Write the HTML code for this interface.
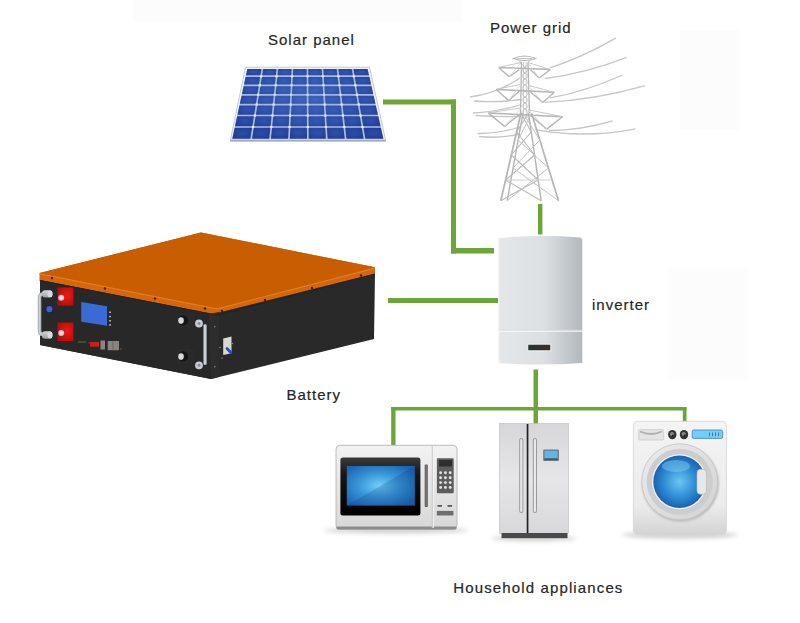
<!DOCTYPE html>
<html><head><meta charset="utf-8"><style>
html,body{margin:0;padding:0;background:#fff;width:800px;height:623px;overflow:hidden}
svg{display:block}
</style></head><body>
<svg width="800" height="623" viewBox="0 0 800 623">

<rect x="0" y="0" width="800" height="623" fill="#ffffff"/>
<rect x="133" y="0" width="329" height="22" fill="#fcfcfc"/>
<rect x="680" y="30" width="60" height="100" fill="#fcfcfc"/>
<rect x="668" y="268" width="80" height="112" fill="#fcfcfc"/>

<rect x="383" y="99.5" width="73" height="5" fill="#6ca636"/>
<rect x="451" y="99.5" width="5" height="154" fill="#6ca636"/>
<rect x="451" y="248" width="43" height="5.5" fill="#6ca636"/>
<rect x="538" y="204" width="4.4" height="30.5" fill="#6ca636"/>
<rect x="388" y="298" width="110" height="5" fill="#6ca636"/>
<rect x="533.5" y="369.5" width="4.5" height="54.5" fill="#6ca636"/>
<rect x="391" y="407" width="295.5" height="3.5" fill="#6ca636"/>
<rect x="391.2" y="407" width="4.3" height="38" fill="#6ca636"/>
<rect x="682.8" y="407" width="3.7" height="15" fill="#6ca636"/>
<defs><radialGradient id="cellg" cx="0.5" cy="0.5" r="0.7"><stop offset="0" stop-color="#2b4dac"/><stop offset="1" stop-color="#22398f"/></radialGradient><linearGradient id="invg" x1="0" y1="0" x2="1" y2="0"><stop offset="0" stop-color="#e4e7e9"/><stop offset="0.55" stop-color="#dde0e3"/><stop offset="1" stop-color="#b2b8bd"/></linearGradient><radialGradient id="mwglass" cx="0.48" cy="0.5" r="0.62"><stop offset="0" stop-color="#70d0f6"/><stop offset="0.5" stop-color="#3a96d8"/><stop offset="1" stop-color="#1c64b4"/></radialGradient><linearGradient id="mwframe" x1="0" y1="0" x2="0" y2="1"><stop offset="0" stop-color="#3a3a3a"/><stop offset="0.3" stop-color="#161616"/><stop offset="1" stop-color="#000"/></linearGradient><radialGradient id="wglass" cx="0.5" cy="0.5" r="0.55"><stop offset="0" stop-color="#6cc6f2"/><stop offset="0.6" stop-color="#2a86d0"/><stop offset="1" stop-color="#1658a8"/></radialGradient><linearGradient id="fridgeg" x1="0" y1="0" x2="0" y2="1"><stop offset="0" stop-color="#d6d6d8"/><stop offset="0.5" stop-color="#e6e6e8"/><stop offset="1" stop-color="#d8d8da"/></linearGradient><linearGradient id="mwbody" x1="0" y1="0" x2="0" y2="1"><stop offset="0" stop-color="#f2f2f2"/><stop offset="1" stop-color="#d8d8d8"/></linearGradient><linearGradient id="wbody" x1="0" y1="0" x2="0" y2="1"><stop offset="0" stop-color="#f4f4f4"/><stop offset="0.75" stop-color="#ebebeb"/><stop offset="1" stop-color="#d4d4d4"/></linearGradient><linearGradient id="wring" x1="0" y1="0" x2="1" y2="1"><stop offset="0" stop-color="#ececec"/><stop offset="1" stop-color="#d2d2d2"/></linearGradient><linearGradient id="slotg" x1="0" y1="0" x2="1" y2="0"><stop offset="0" stop-color="#263634"/><stop offset="1" stop-color="#3a2e2e"/></linearGradient><linearGradient id="knobg" x1="0" y1="0" x2="0" y2="1"><stop offset="0" stop-color="#d4d8dc"/><stop offset="1" stop-color="#9aa0a4"/></linearGradient><radialGradient id="redg" cx="0.6" cy="0.45" r="0.6"><stop offset="0" stop-color="#f01818"/><stop offset="1" stop-color="#b80c0c"/></radialGradient><filter id="blur1" x="-50%" y="-50%" width="200%" height="200%"><feGaussianBlur stdDeviation="1.2"/></filter><filter id="blur2" x="-50%" y="-200%" width="200%" height="500%"><feGaussianBlur stdDeviation="2"/></filter></defs>
<polygon points="245.5,67.2 369.5,67.2 385.8,141 230.2,141" fill="#f0f2f6" stroke="#c0c4c8" stroke-width="0.9"/>
<polygon points="230.5,139.6 385.5,139.6 385.8,141.4 230.2,141.4" fill="#a9adb2"/>
<polygon points="247.3,68.9 367.6,68.9 383.4,138.7 232.3,138.7" fill="#a9c0e6"/>
<polygon points="247.3,68.9 261.49,68.9 260.46,75.35 245.91,75.35" fill="url(#cellg)"/>
<polygon points="263.19,68.9 276.52,68.9 275.85,75.35 262.16,75.35" fill="url(#cellg)"/>
<polygon points="278.23,68.9 291.56,68.9 291.24,75.35 277.55,75.35" fill="url(#cellg)"/>
<polygon points="293.26,68.9 306.6,68.9 306.64,75.35 292.94,75.35" fill="url(#cellg)"/>
<polygon points="308.3,68.9 321.64,68.9 322.03,75.35 308.34,75.35" fill="url(#cellg)"/>
<polygon points="323.34,68.9 336.68,68.9 337.42,75.35 323.73,75.35" fill="url(#cellg)"/>
<polygon points="338.38,68.9 351.71,68.9 352.82,75.35 339.12,75.35" fill="url(#cellg)"/>
<polygon points="353.41,68.9 367.6,68.9 369.06,75.35 354.52,75.35" fill="url(#cellg)"/>
<polygon points="245.55,77.05 260.19,77.05 259,84.45 243.96,84.45" fill="url(#cellg)"/>
<polygon points="261.89,77.05 275.67,77.05 274.9,84.45 260.7,84.45" fill="url(#cellg)"/>
<polygon points="277.37,77.05 291.16,77.05 290.79,84.45 276.6,84.45" fill="url(#cellg)"/>
<polygon points="292.86,77.05 306.65,77.05 306.69,84.45 292.49,84.45" fill="url(#cellg)"/>
<polygon points="308.35,77.05 322.13,77.05 322.58,84.45 308.39,84.45" fill="url(#cellg)"/>
<polygon points="323.83,77.05 337.62,77.05 338.48,84.45 324.28,84.45" fill="url(#cellg)"/>
<polygon points="339.32,77.05 353.11,77.05 354.37,84.45 340.18,84.45" fill="url(#cellg)"/>
<polygon points="354.81,77.05 369.44,77.05 371.12,84.45 356.07,84.45" fill="url(#cellg)"/>
<polygon points="243.59,86.15 258.73,86.15 257.49,93.95 241.92,93.95" fill="url(#cellg)"/>
<polygon points="260.43,86.15 274.72,86.15 273.91,93.95 259.19,93.95" fill="url(#cellg)"/>
<polygon points="276.42,86.15 290.71,86.15 290.32,93.95 275.61,93.95" fill="url(#cellg)"/>
<polygon points="292.41,86.15 306.7,86.15 306.74,93.95 292.02,93.95" fill="url(#cellg)"/>
<polygon points="308.4,86.15 322.69,86.15 323.16,93.95 308.44,93.95" fill="url(#cellg)"/>
<polygon points="324.39,86.15 338.68,86.15 339.58,93.95 324.86,93.95" fill="url(#cellg)"/>
<polygon points="340.38,86.15 354.67,86.15 356,93.95 341.28,93.95" fill="url(#cellg)"/>
<polygon points="356.37,86.15 371.5,86.15 373.27,93.95 357.7,93.95" fill="url(#cellg)"/>
<polygon points="241.55,95.65 257.21,95.65 255.92,103.75 239.81,103.75" fill="url(#cellg)"/>
<polygon points="258.91,95.65 273.73,95.65 272.88,103.75 257.62,103.75" fill="url(#cellg)"/>
<polygon points="275.43,95.65 290.24,95.65 289.84,103.75 274.58,103.75" fill="url(#cellg)"/>
<polygon points="291.94,95.65 306.75,95.65 306.8,103.75 291.54,103.75" fill="url(#cellg)"/>
<polygon points="308.45,95.65 323.27,95.65 323.76,103.75 308.5,103.75" fill="url(#cellg)"/>
<polygon points="324.97,95.65 339.78,95.65 340.72,103.75 325.46,103.75" fill="url(#cellg)"/>
<polygon points="341.48,95.65 356.29,95.65 357.68,103.75 342.42,103.75" fill="url(#cellg)"/>
<polygon points="357.99,95.65 373.66,95.65 375.49,103.75 359.38,103.75" fill="url(#cellg)"/>
<polygon points="239.45,105.45 255.65,105.45 254.18,114.65 237.47,114.65" fill="url(#cellg)"/>
<polygon points="257.35,105.45 272.7,105.45 271.74,114.65 255.88,114.65" fill="url(#cellg)"/>
<polygon points="274.4,105.45 289.76,105.45 289.3,114.65 273.44,114.65" fill="url(#cellg)"/>
<polygon points="291.46,105.45 306.81,105.45 306.86,114.65 291,114.65" fill="url(#cellg)"/>
<polygon points="308.51,105.45 323.86,105.45 324.42,114.65 308.56,114.65" fill="url(#cellg)"/>
<polygon points="325.56,105.45 340.92,105.45 341.98,114.65 326.12,114.65" fill="url(#cellg)"/>
<polygon points="342.62,105.45 357.97,105.45 359.55,114.65 343.68,114.65" fill="url(#cellg)"/>
<polygon points="359.67,105.45 375.87,105.45 377.96,114.65 361.25,114.65" fill="url(#cellg)"/>
<polygon points="237.1,116.35 253.91,116.35 252.34,126.15 235,126.15" fill="url(#cellg)"/>
<polygon points="255.61,116.35 271.56,116.35 270.54,126.15 254.04,126.15" fill="url(#cellg)"/>
<polygon points="273.26,116.35 289.22,116.35 288.73,126.15 272.24,126.15" fill="url(#cellg)"/>
<polygon points="290.92,116.35 306.87,116.35 306.93,126.15 290.43,126.15" fill="url(#cellg)"/>
<polygon points="308.57,116.35 324.53,116.35 325.12,126.15 308.63,126.15" fill="url(#cellg)"/>
<polygon points="326.23,116.35 342.18,116.35 343.32,126.15 326.82,126.15" fill="url(#cellg)"/>
<polygon points="343.88,116.35 359.84,116.35 361.51,126.15 345.02,126.15" fill="url(#cellg)"/>
<polygon points="361.54,116.35 378.34,116.35 380.56,126.15 363.21,126.15" fill="url(#cellg)"/>
<polygon points="234.63,127.85 252.07,127.85 250.34,138.7 232.3,138.7" fill="url(#cellg)"/>
<polygon points="253.77,127.85 270.36,127.85 269.22,138.7 252.04,138.7" fill="url(#cellg)"/>
<polygon points="272.06,127.85 288.65,127.85 288.11,138.7 270.93,138.7" fill="url(#cellg)"/>
<polygon points="290.35,127.85 306.94,127.85 307,138.7 289.81,138.7" fill="url(#cellg)"/>
<polygon points="308.64,127.85 325.23,127.85 325.89,138.7 308.7,138.7" fill="url(#cellg)"/>
<polygon points="326.93,127.85 343.52,127.85 344.77,138.7 327.59,138.7" fill="url(#cellg)"/>
<polygon points="345.22,127.85 361.8,127.85 363.66,138.7 346.48,138.7" fill="url(#cellg)"/>
<polygon points="363.5,127.85 380.94,127.85 383.4,138.7 365.36,138.7" fill="url(#cellg)"/>
<circle cx="261.17" cy="76.2" r="1.3" fill="#f4f8ff"/>
<circle cx="276.61" cy="76.2" r="1.3" fill="#f4f8ff"/>
<circle cx="292.05" cy="76.2" r="1.3" fill="#f4f8ff"/>
<circle cx="307.49" cy="76.2" r="1.3" fill="#f4f8ff"/>
<circle cx="322.93" cy="76.2" r="1.3" fill="#f4f8ff"/>
<circle cx="338.37" cy="76.2" r="1.3" fill="#f4f8ff"/>
<circle cx="353.81" cy="76.2" r="1.3" fill="#f4f8ff"/>
<circle cx="259.72" cy="85.3" r="1.3" fill="#f4f8ff"/>
<circle cx="275.66" cy="85.3" r="1.3" fill="#f4f8ff"/>
<circle cx="291.6" cy="85.3" r="1.3" fill="#f4f8ff"/>
<circle cx="307.54" cy="85.3" r="1.3" fill="#f4f8ff"/>
<circle cx="323.49" cy="85.3" r="1.3" fill="#f4f8ff"/>
<circle cx="339.43" cy="85.3" r="1.3" fill="#f4f8ff"/>
<circle cx="355.37" cy="85.3" r="1.3" fill="#f4f8ff"/>
<circle cx="258.2" cy="94.8" r="1.3" fill="#f4f8ff"/>
<circle cx="274.67" cy="94.8" r="1.3" fill="#f4f8ff"/>
<circle cx="291.13" cy="94.8" r="1.3" fill="#f4f8ff"/>
<circle cx="307.6" cy="94.8" r="1.3" fill="#f4f8ff"/>
<circle cx="324.06" cy="94.8" r="1.3" fill="#f4f8ff"/>
<circle cx="340.53" cy="94.8" r="1.3" fill="#f4f8ff"/>
<circle cx="357" cy="94.8" r="1.3" fill="#f4f8ff"/>
<circle cx="256.63" cy="104.6" r="1.3" fill="#f4f8ff"/>
<circle cx="273.64" cy="104.6" r="1.3" fill="#f4f8ff"/>
<circle cx="290.65" cy="104.6" r="1.3" fill="#f4f8ff"/>
<circle cx="307.65" cy="104.6" r="1.3" fill="#f4f8ff"/>
<circle cx="324.66" cy="104.6" r="1.3" fill="#f4f8ff"/>
<circle cx="341.67" cy="104.6" r="1.3" fill="#f4f8ff"/>
<circle cx="358.67" cy="104.6" r="1.3" fill="#f4f8ff"/>
<circle cx="254.89" cy="115.5" r="1.3" fill="#f4f8ff"/>
<circle cx="272.5" cy="115.5" r="1.3" fill="#f4f8ff"/>
<circle cx="290.11" cy="115.5" r="1.3" fill="#f4f8ff"/>
<circle cx="307.72" cy="115.5" r="1.3" fill="#f4f8ff"/>
<circle cx="325.32" cy="115.5" r="1.3" fill="#f4f8ff"/>
<circle cx="342.93" cy="115.5" r="1.3" fill="#f4f8ff"/>
<circle cx="360.54" cy="115.5" r="1.3" fill="#f4f8ff"/>
<circle cx="253.06" cy="127" r="1.3" fill="#f4f8ff"/>
<circle cx="271.3" cy="127" r="1.3" fill="#f4f8ff"/>
<circle cx="289.54" cy="127" r="1.3" fill="#f4f8ff"/>
<circle cx="307.78" cy="127" r="1.3" fill="#f4f8ff"/>
<circle cx="326.03" cy="127" r="1.3" fill="#f4f8ff"/>
<circle cx="344.27" cy="127" r="1.3" fill="#f4f8ff"/>
<circle cx="362.51" cy="127" r="1.3" fill="#f4f8ff"/>
<radialGradient id="panelov" cx="0.5" cy="0.4" r="0.6"><stop offset="0" stop-color="#6a9ae0" stop-opacity="0.35"/><stop offset="1" stop-color="#6a9ae0" stop-opacity="0"/></radialGradient>
<polygon points="247.3,68.9 367.6,68.9 383.4,138.7 232.3,138.7" fill="url(#panelov)"/>
<path d="M550,67.9 Q583,57.1 616.1,37.9" fill="none" stroke="#c6c6c6" stroke-width="1.3"/><path d="M544.7,78.5 Q585.7,73.3 626.7,57.3" fill="none" stroke="#c6c6c6" stroke-width="1.3"/><path d="M550,97.9 Q585.9,91.6 622.3,75" fill="none" stroke="#c6c6c6" stroke-width="1.3"/><path d="M544.7,102.3 Q595,100 645.2,85.6" fill="none" stroke="#c6c6c6" stroke-width="1.3"/><path d="M549,130.5 Q581.2,130.2 612.6,120.8" fill="none" stroke="#c6c6c6" stroke-width="1.3"/><path d="M535,129.6 Q584.8,138.8 635.5,128.8" fill="none" stroke="#c6c6c6" stroke-width="1.3"/><path d="M470,97 Q497,93.5 520,78" fill="none" stroke="#c6c6c6" stroke-width="1.3"/><path d="M474,101 Q496.5,102.8 521,99.5" fill="none" stroke="#c6c6c6" stroke-width="1.3"/><path d="M473,113 Q495.5,112 520,105" fill="none" stroke="#c6c6c6" stroke-width="1.3"/><path d="M475.5,115.5 Q496.3,117 520,116.5" fill="none" stroke="#c6c6c6" stroke-width="1.3"/><path d="M477.5,133.5 Q497.3,133.8 520,127" fill="none" stroke="#c6c6c6" stroke-width="1.3"/><path d="M479,136.5 Q498.5,138.8 520,134" fill="none" stroke="#c6c6c6" stroke-width="1.3"/><path d="M513.3,58.5 Q524.5,53.5 535.7,58.5 Q524.5,62.5 513.3,58.5 Z" fill="none" stroke="#b4b4b4" stroke-width="1.1"/><line x1="517" y1="58.5" x2="532" y2="58.5" stroke="#c0c0c0" stroke-width="0.9"/><line x1="520" y1="61" x2="520.5" y2="64" stroke="#b4b4b4" stroke-width="1.0"/><line x1="529" y1="61" x2="528.5" y2="64" stroke="#b4b4b4" stroke-width="1.0"/><line x1="521.5" y1="62" x2="520.5" y2="113" stroke="#b4b4b4" stroke-width="1.3"/><line x1="528" y1="62" x2="529.5" y2="113" stroke="#b4b4b4" stroke-width="1.3"/><line x1="523.5" y1="62" x2="523.5" y2="113" stroke="#c4c4c4" stroke-width="0.8"/><line x1="526" y1="62" x2="526.5" y2="113" stroke="#c4c4c4" stroke-width="0.8"/><line x1="521.5" y1="64" x2="528.5" y2="70" stroke="#bcbcbc" stroke-width="0.8"/><line x1="528.5" y1="64" x2="521.5" y2="70" stroke="#bcbcbc" stroke-width="0.8"/><line x1="521.5" y1="70" x2="528.5" y2="76" stroke="#bcbcbc" stroke-width="0.8"/><line x1="528.5" y1="70" x2="521.5" y2="76" stroke="#bcbcbc" stroke-width="0.8"/><line x1="521.5" y1="76" x2="528.5" y2="82" stroke="#bcbcbc" stroke-width="0.8"/><line x1="528.5" y1="76" x2="521.5" y2="82" stroke="#bcbcbc" stroke-width="0.8"/><line x1="521.5" y1="82" x2="528.5" y2="88" stroke="#bcbcbc" stroke-width="0.8"/><line x1="528.5" y1="82" x2="521.5" y2="88" stroke="#bcbcbc" stroke-width="0.8"/><line x1="521.5" y1="88" x2="528.5" y2="94" stroke="#bcbcbc" stroke-width="0.8"/><line x1="528.5" y1="88" x2="521.5" y2="94" stroke="#bcbcbc" stroke-width="0.8"/><line x1="521.5" y1="94" x2="528.5" y2="100" stroke="#bcbcbc" stroke-width="0.8"/><line x1="528.5" y1="94" x2="521.5" y2="100" stroke="#bcbcbc" stroke-width="0.8"/><line x1="521.5" y1="100" x2="528.5" y2="106" stroke="#bcbcbc" stroke-width="0.8"/><line x1="528.5" y1="100" x2="521.5" y2="106" stroke="#bcbcbc" stroke-width="0.8"/><line x1="521.5" y1="106" x2="528.5" y2="112" stroke="#bcbcbc" stroke-width="0.8"/><line x1="528.5" y1="106" x2="521.5" y2="112" stroke="#bcbcbc" stroke-width="0.8"/><line x1="521.5" y1="112" x2="528.5" y2="118" stroke="#bcbcbc" stroke-width="0.8"/><line x1="528.5" y1="112" x2="521.5" y2="118" stroke="#bcbcbc" stroke-width="0.8"/><line x1="498.7" y1="67.5" x2="550.3" y2="69.5" stroke="#b4b4b4" stroke-width="1.5"/><line x1="498.7" y1="67.5" x2="509.2" y2="76.8" stroke="#b4b4b4" stroke-width="1.4"/><line x1="509.2" y1="76.8" x2="519.4" y2="69.5" stroke="#b4b4b4" stroke-width="1.4"/><line x1="550.3" y1="69.5" x2="539.3" y2="78" stroke="#b4b4b4" stroke-width="1.4"/><line x1="539.3" y1="78" x2="530.8" y2="70" stroke="#b4b4b4" stroke-width="1.4"/><line x1="499.7" y1="67.2" x2="521" y2="62.5" stroke="#c8c8c8" stroke-width="1.0"/><line x1="549.3" y1="69.2" x2="528" y2="62.5" stroke="#c8c8c8" stroke-width="1.0"/><line x1="509.2" y1="76.8" x2="521" y2="62.5" stroke="#d6d6d6" stroke-width="0.8"/><line x1="539.3" y1="78" x2="528" y2="62.5" stroke="#d6d6d6" stroke-width="0.8"/><line x1="496.2" y1="89.4" x2="554.3" y2="92.3" stroke="#b4b4b4" stroke-width="1.5"/><line x1="496.2" y1="89.4" x2="508.6" y2="100.5" stroke="#b4b4b4" stroke-width="1.4"/><line x1="508.6" y1="100.5" x2="520" y2="90.5" stroke="#b4b4b4" stroke-width="1.4"/><line x1="554.3" y1="92.3" x2="542.8" y2="102.5" stroke="#b4b4b4" stroke-width="1.4"/><line x1="542.8" y1="102.5" x2="530" y2="91.5" stroke="#b4b4b4" stroke-width="1.4"/><line x1="497.2" y1="89.1" x2="521" y2="84.4" stroke="#c8c8c8" stroke-width="1.0"/><line x1="553.3" y1="92" x2="528" y2="85.3" stroke="#c8c8c8" stroke-width="1.0"/><line x1="508.6" y1="100.5" x2="521" y2="84.4" stroke="#d6d6d6" stroke-width="0.8"/><line x1="542.8" y1="102.5" x2="528" y2="85.3" stroke="#d6d6d6" stroke-width="0.8"/><line x1="488.2" y1="113" x2="562.5" y2="116.8" stroke="#b4b4b4" stroke-width="1.5"/><line x1="488.2" y1="113" x2="504.6" y2="126.4" stroke="#b4b4b4" stroke-width="1.4"/><line x1="504.6" y1="126.4" x2="520" y2="114" stroke="#b4b4b4" stroke-width="1.4"/><line x1="562.5" y1="116.8" x2="546.8" y2="129.1" stroke="#b4b4b4" stroke-width="1.4"/><line x1="546.8" y1="129.1" x2="530" y2="115" stroke="#b4b4b4" stroke-width="1.4"/><line x1="489.2" y1="112.7" x2="521" y2="108" stroke="#c8c8c8" stroke-width="1.0"/><line x1="561.5" y1="116.5" x2="528" y2="109.8" stroke="#c8c8c8" stroke-width="1.0"/><line x1="504.6" y1="126.4" x2="521" y2="108" stroke="#d6d6d6" stroke-width="0.8"/><line x1="546.8" y1="129.1" x2="528" y2="109.8" stroke="#d6d6d6" stroke-width="0.8"/><line x1="521" y1="113" x2="500.8" y2="200.7" stroke="#b4b4b4" stroke-width="1.7"/><line x1="523" y1="113" x2="507.2" y2="200.7" stroke="#b4b4b4" stroke-width="1.4"/><line x1="528.5" y1="113" x2="541.2" y2="200.7" stroke="#b4b4b4" stroke-width="1.4"/><line x1="531.5" y1="113" x2="558.5" y2="200.7" stroke="#b4b4b4" stroke-width="1.7"/><line x1="521" y1="113" x2="531.25" y2="132" stroke="#b8b8b8" stroke-width="1.1"/><line x1="528.5" y1="113" x2="516.62" y2="132" stroke="#b8b8b8" stroke-width="1.1"/><line x1="516.62" y1="132" x2="534.58" y2="155" stroke="#b8b8b8" stroke-width="1.1"/><line x1="531.25" y1="132" x2="511.33" y2="155" stroke="#b8b8b8" stroke-width="1.1"/><line x1="511.33" y1="155" x2="538.2" y2="180" stroke="#b8b8b8" stroke-width="1.1"/><line x1="534.58" y1="155" x2="505.57" y2="180" stroke="#b8b8b8" stroke-width="1.1"/><line x1="505.57" y1="180" x2="541.2" y2="200.7" stroke="#b8b8b8" stroke-width="1.1"/><line x1="538.2" y1="180" x2="500.8" y2="200.7" stroke="#b8b8b8" stroke-width="1.1"/><line x1="523" y1="113" x2="539.81" y2="140" stroke="#c2c2c2" stroke-width="1.0"/><line x1="531.5" y1="113" x2="518.14" y2="140" stroke="#c2c2c2" stroke-width="1.0"/><line x1="518.14" y1="140" x2="548.43" y2="168" stroke="#c2c2c2" stroke-width="1.0"/><line x1="539.81" y1="140" x2="513.09" y2="168" stroke="#c2c2c2" stroke-width="1.0"/><line x1="513.09" y1="168" x2="558.5" y2="200.7" stroke="#c2c2c2" stroke-width="1.0"/><line x1="548.43" y1="168" x2="507.2" y2="200.7" stroke="#c2c2c2" stroke-width="1.0"/><line x1="505.57" y1="180" x2="552.13" y2="180" stroke="#cfcfcf" stroke-width="1.0"/>
<path d="M498,238 Q540,234.5 580,237.5 Q582.3,238 582.3,240 L582.3,363 Q540,366 498,363 Z" fill="url(#invg)"/>
<line x1="498.8" y1="238" x2="498.8" y2="363" stroke="#f6f7f8" stroke-width="1.2"/>
<line x1="498" y1="331.2" x2="582.3" y2="331.2" stroke="#f8f8f8" stroke-width="1.3"/>
<line x1="498" y1="330" x2="582.3" y2="330" stroke="#d2d5d8" stroke-width="0.7"/>
<rect x="527.8" y="344.2" width="23" height="6.6" fill="url(#slotg)" stroke="#f6f6f6" stroke-width="0.9"/>

<polygon points="39.5,273 201,232.5 375,267.3 375,274 217,315 39.5,280.5" fill="#d4670c"/>
<polygon points="39.5,273 201,232.5 375,267.3 217,308.3" fill="#c95d01"/>
<polygon points="40,280 213,314 375,273.5 374,339 211,379 40,345" fill="#292929"/>
<polygon points="40,280 213,314 211,379 40,345" fill="#282828"/>
<polygon points="209,314 219,312 219,377 211,379" fill="#2d2d2d"/>
<polyline points="39.5,273.8 217,309 375,268.2" fill="none" stroke="#e8831e" stroke-width="0.9"/>
<polyline points="39.5,280.5 217,315 375,274" fill="none" stroke="#1a1a1a" stroke-width="0.8" opacity="0.6"/>

<circle cx="52" cy="278" r="1.2" fill="#4a1606"/>
<circle cx="105" cy="288.5" r="1.2" fill="#4a1606"/>
<circle cx="155" cy="298.5" r="1.2" fill="#4a1606"/>
<circle cx="205" cy="308.5" r="1.2" fill="#4a1606"/>
<circle cx="222" cy="311" r="1.2" fill="#4a1606"/>
<circle cx="265" cy="300" r="1.2" fill="#4a1606"/>
<circle cx="312" cy="288" r="1.2" fill="#4a1606"/>
<circle cx="361" cy="275.5" r="1.2" fill="#4a1606"/>
<path d="M43,294 Q39.5,294 39.5,298 L39.5,330 Q39.5,334.5 43,334.5" fill="none" stroke="#a9aeb2" stroke-width="3.6"/>
<path d="M43,294 Q39.5,294 39.5,298 L39.5,330 Q39.5,334.5 43,334.5" fill="none" stroke="#ccd0d4" stroke-width="1.6"/>
<rect x="42" y="290.3" width="10.3" height="7.2" rx="3.2" fill="url(#knobg)"/><ellipse cx="50" cy="293.9" rx="2.6" ry="3.4" fill="#d6dade"/>
<rect x="42" y="331.2" width="10.3" height="7.6" rx="3.2" fill="url(#knobg)"/><ellipse cx="50" cy="335" rx="2.6" ry="3.6" fill="#d6dade"/>
<rect x="57.6" y="287.4" width="15.8" height="18.2" fill="url(#redg)"/>
<circle cx="61.2" cy="297.79999999999995" r="3" fill="#b8c4c4"/><circle cx="61.2" cy="297.79999999999995" r="1.8" fill="#e4eeee"/>
<rect x="57.6" y="322.6" width="15.8" height="18.4" fill="url(#redg)"/>
<circle cx="61.2" cy="333.0" r="3" fill="#b8c4c4"/><circle cx="61.2" cy="333.0" r="1.8" fill="#e4eeee"/>
<circle cx="49.4" cy="309.2" r="3.8" fill="#1a1a2a"/><circle cx="49.4" cy="309.2" r="3.1" fill="#3c62cc"/>
<polygon points="81.2,302 107,306.2 107,325.8 81.2,321.8" fill="#3a6ad6"/>
<rect x="109.3" y="311.5" width="1.5" height="1.5" fill="#d0d0d0"/>
<rect x="109.3" y="315.8" width="1.5" height="1.5" fill="#d0d0d0"/>
<rect x="109.3" y="320" width="1.5" height="1.5" fill="#d0d0d0"/>
<rect x="109.3" y="324.2" width="1.5" height="1.5" fill="#d0d0d0"/>
<rect x="78" y="341.5" width="8" height="1" fill="#2a8a2a"/><rect x="88" y="342.5" width="1.5" height="1" fill="#c82020"/><rect x="90" y="342" width="9" height="4.7" fill="#c82020"/>
<rect x="100.5" y="340.5" width="4.5" height="9" fill="#8a8580"/><rect x="107.7" y="341" width="11.3" height="9.2" fill="#8a8580"/><rect x="112.5" y="341.5" width="1" height="8" fill="#6a6560"/>
<circle cx="121" cy="349" r="0.7" fill="#777"/>
<rect x="177" y="312.9" width="17" height="15" fill="#2a2a2a"/><circle cx="183" cy="320.4" r="5.2" fill="#151515"/><ellipse cx="181" cy="320.59999999999997" rx="2.8" ry="3.3" fill="#d4d8da"/>
<rect x="177" y="348.9" width="17" height="15" fill="#2a2a2a"/><circle cx="183" cy="356.4" r="5.2" fill="#151515"/><ellipse cx="181" cy="356.59999999999997" rx="2.8" ry="3.3" fill="#d4d8da"/>
<rect x="203.4" y="324" width="3.3" height="41" rx="1.6" fill="#b4b8bc"/><rect x="204.3" y="325" width="1.3" height="39" fill="#d8dcdf"/>
<circle cx="199" cy="323.5" r="3.9" fill="#c8ccd0"/><circle cx="199" cy="323.5" r="1.5" fill="#8a8e92"/>
<circle cx="199" cy="365.3" r="3.9" fill="#c8ccd0"/><circle cx="199" cy="365.3" r="1.5" fill="#8a8e92"/>
<polygon points="223.2,338.5 231.5,336.5 231.5,353.2 223.2,355" fill="#d8d8cc"/><path d="M227,348.5 L230.8,352.5" stroke="#2a48d8" stroke-width="2.8" stroke-linecap="round"/>
<circle cx="214.8" cy="326.7" r="0.75" fill="#8a8a8a"/>
<circle cx="220" cy="347.5" r="0.75" fill="#8a8a8a"/>
<circle cx="214.8" cy="366.8" r="0.75" fill="#8a8a8a"/>
<circle cx="232.5" cy="343.5" r="0.75" fill="#8a8a8a"/>
<circle cx="222" cy="358" r="0.75" fill="#8a8a8a"/>

<ellipse cx="396" cy="530.5" rx="72" ry="3" fill="#d0d0d0" filter="url(#blur2)"/>
<rect x="336" y="445.3" width="121" height="84" rx="4" fill="url(#mwbody)" stroke="#b4b4b4" stroke-width="0.9"/>
<rect x="336.5" y="526.5" width="120" height="3" rx="1" fill="#8c8c8c"/>
<rect x="340.4" y="457.5" width="80" height="58" rx="2.5" fill="url(#mwframe)"/>
<rect x="346.8" y="466" width="68" height="39.5" fill="url(#mwglass)"/>
<polygon points="346.8,505.5 414.8,466 414.8,505.5" fill="#0a3a80" opacity="0.22"/>
<rect x="424.7" y="464.4" width="3.1" height="42.6" rx="1" fill="#5a5a5a"/>
<rect x="425.7" y="465" width="0.9" height="41" fill="#8a8a8a"/>
<line x1="432.3" y1="446" x2="432.3" y2="528" stroke="#c0c0c0" stroke-width="1"/>
<line x1="433.3" y1="446" x2="433.3" y2="528" stroke="#f4f4f4" stroke-width="1"/>
<rect x="436.9" y="458.3" width="16.8" height="35" rx="0.8" fill="#5c5c5c"/>
<rect x="439" y="460" width="13" height="6.5" fill="#2e2e2e"/>
<rect x="436.9" y="510.9" width="16.5" height="4.6" fill="#6e6e6e"/>
<rect x="437.5" y="505" width="4.5" height="1.8" fill="#5a5a5a"/>
<rect x="447.5" y="505" width="4.5" height="1.8" fill="#5a5a5a"/>

<circle cx="440.6" cy="472.8" r="1.45" fill="#e2e2e2"/>
<circle cx="445.4" cy="472.8" r="1.45" fill="#e2e2e2"/>
<circle cx="450.2" cy="472.8" r="1.45" fill="#e2e2e2"/>
<circle cx="440.6" cy="477.7" r="1.45" fill="#e2e2e2"/>
<circle cx="445.4" cy="477.7" r="1.45" fill="#e2e2e2"/>
<circle cx="450.2" cy="477.7" r="1.45" fill="#e2e2e2"/>
<circle cx="440.6" cy="482.6" r="1.45" fill="#e2e2e2"/>
<circle cx="445.4" cy="482.6" r="1.45" fill="#e2e2e2"/>
<circle cx="450.2" cy="482.6" r="1.45" fill="#e2e2e2"/>
<circle cx="440.6" cy="487.5" r="1.45" fill="#e2e2e2"/>
<circle cx="445.4" cy="487.5" r="1.45" fill="#e2e2e2"/>
<circle cx="450.2" cy="487.5" r="1.45" fill="#e2e2e2"/>

<ellipse cx="534" cy="538.5" rx="42" ry="3" fill="#d4d4d4" filter="url(#blur2)"/>
<rect x="499.4" y="423.4" width="69" height="110" fill="url(#fridgeg)" stroke="#bdbdbd" stroke-width="0.6"/>
<rect x="501.5" y="533" width="66" height="5.2" fill="#4a4a4a"/>
<rect x="526.7" y="424" width="1.7" height="109" fill="#222"/>
<rect x="519.2" y="438" width="4.2" height="75" rx="2" fill="#9a9a9a"/>
<rect x="520.2" y="439" width="2.2" height="73" rx="1" fill="#e8e8e8"/>
<rect x="532.8" y="438" width="4.2" height="75" rx="2" fill="#9a9a9a"/>
<rect x="533.8" y="439" width="2.2" height="73" rx="1" fill="#e8e8e8"/>
<rect x="543.2" y="449.4" width="15.7" height="11.6" rx="1" fill="#6a7880"/>
<rect x="544.5" y="450.7" width="13.1" height="7.8" fill="#60b6e8"/>
<rect x="544.5" y="458.5" width="13.1" height="1.2" fill="#404a50"/>


<ellipse cx="680" cy="535" rx="58" ry="3.5" fill="#d0d0d0" filter="url(#blur2)"/>
<rect x="633.4" y="421.3" width="93" height="112.7" rx="4" fill="url(#wbody)" stroke="#d0d0d0" stroke-width="0.7"/>
<rect x="638.6" y="429.6" width="25" height="10.4" rx="1" fill="#e4e4e4" stroke="#c8c8c8" stroke-width="0.7"/>
<path d="M640,431.5 Q651,436.5 662,431.5" fill="none" stroke="#b0b0b0" stroke-width="1.8"/>
<ellipse cx="672.3" cy="434.6" rx="4.2" ry="4.7" fill="#333"/><circle cx="672" cy="434" r="2.1" fill="#8a8a8a"/><circle cx="672.8" cy="435.6" r="1" fill="#222"/>
<ellipse cx="684" cy="434.6" rx="4.2" ry="4.7" fill="#333"/><circle cx="683.7" cy="434" r="2.1" fill="#8a8a8a"/><circle cx="684.5" cy="435.6" r="1" fill="#222"/>
<rect x="692.2" y="430" width="30.5" height="8.4" rx="1.5" fill="#72cef6" stroke="#4a8cb8" stroke-width="0.9"/>
<rect x="709" y="432.5" width="1" height="3.5" fill="#3a7aa8"/><rect x="712" y="432.5" width="1" height="3.5" fill="#3a7aa8"/><rect x="715" y="432.5" width="1" height="3.5" fill="#3a7aa8"/><rect x="718" y="432.5" width="1" height="3.5" fill="#3a7aa8"/>
<circle cx="680.5" cy="483.5" r="38.5" fill="#bdbdbd" filter="url(#blur1)"/>
<circle cx="679.7" cy="481.8" r="38" fill="url(#wring)" stroke="#c4c4c4" stroke-width="0.8"/>
<circle cx="679.7" cy="481.8" r="33" fill="#cdcdcd"/>
<circle cx="679.5" cy="481.8" r="27.5" fill="#f2f2f2"/>
<circle cx="679.5" cy="481.8" r="26.2" fill="url(#wglass)"/>
<ellipse cx="676" cy="466" rx="14" ry="6" fill="#8ad0f4" opacity="0.45"/>
<rect x="697" y="469.3" width="9.4" height="25" rx="3.5" fill="#e8e8e8" stroke="#b4b4b4" stroke-width="0.7"/>

<text x="268" y="45.2" font-family="Liberation Sans, sans-serif" font-size="15" letter-spacing="1" fill="#262626" stroke="#262626" stroke-width="0.2">Solar panel</text>
<text x="490" y="32.6" font-family="Liberation Sans, sans-serif" font-size="15" letter-spacing="1" fill="#262626" stroke="#262626" stroke-width="0.2">Power grid</text>
<text x="592" y="309.6" font-family="Liberation Sans, sans-serif" font-size="15" letter-spacing="1" fill="#262626" stroke="#262626" stroke-width="0.2">inverter</text>
<text x="286.5" y="399.9" font-family="Liberation Sans, sans-serif" font-size="15" letter-spacing="1" fill="#262626" stroke="#262626" stroke-width="0.2">Battery</text>
<text x="453.3" y="593" font-family="Liberation Sans, sans-serif" font-size="15" letter-spacing="1.13" fill="#262626" stroke="#262626" stroke-width="0.2">Household appliances</text>
</svg>
</body></html>
